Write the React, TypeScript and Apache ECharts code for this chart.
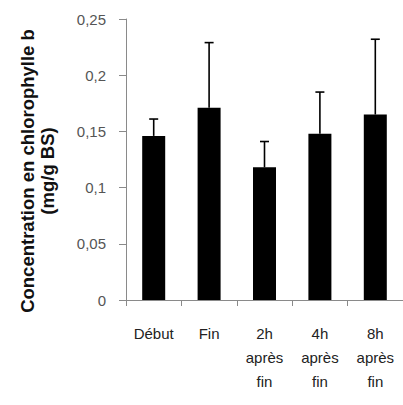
import React, { useEffect, useRef } from "react";
import * as echarts from "echarts";

const categories = ["Début", "Fin", "2h\naprès\nfin", "4h\naprès\nfin", "8h\naprès\nfin"];
const values = [0.146, 0.171, 0.118, 0.148, 0.165];
const errorTops = [0.161, 0.229, 0.141, 0.185, 0.232];
const yTickLabels = ["0", "0,05", "0,1", "0,15", "0,2", "0,25"];
const yTitleLine1 = "Concentration en chlorophylle b";
const yTitleLine2 = "(mg/g BS)";

export default function App() {
  const ref = useRef<HTMLDivElement>(null);
  useEffect(() => {
    if (!ref.current) return;
    const chart = echarts.init(ref.current, null, { renderer: "svg" });
    const font = "'Liberation Sans', Arial, sans-serif";
    chart.setOption({
      animation: false,
      backgroundColor: "#ffffff",
      grid: { left: 126, right: -5, top: 19, bottom: 105, containLabel: false },
      xAxis: {
        type: "category",
        data: categories,
        axisLine: { lineStyle: { color: "#8a8a8a", width: 1 } },
        axisTick: { show: true, length: 6, lineStyle: { color: "#8a8a8a" } },
        axisLabel: {
          color: "#222",
          fontFamily: font,
          fontSize: 15,
          lineHeight: 24,
          margin: 21,
          interval: 0,
        },
      },
      yAxis: {
        type: "value",
        min: 0,
        max: 0.25,
        interval: 0.05,
        splitLine: { show: false },
        axisLine: { show: true, lineStyle: { color: "#8a8a8a", width: 1 } },
        axisTick: { show: true, length: 7, lineStyle: { color: "#8a8a8a" } },
        axisLabel: {
          color: "#555",
          fontFamily: font,
          fontSize: 15,
          margin: 20,
          formatter: (v: number) => yTickLabels[Math.round(v / 0.05)] ?? "",
        },
      },
      graphic: [
        {
          type: "text",
          x: 27,
          y: 171,
          rotation: Math.PI / 2,
          style: {
            text: yTitleLine1,
            fontFamily: font,
            fontWeight: "bold",
            fontSize: 18.5,
            fill: "#111",
            align: "center",
            verticalAlign: "middle",
          },
        },
        {
          type: "text",
          x: 47,
          y: 171,
          rotation: Math.PI / 2,
          style: {
            text: yTitleLine2,
            fontFamily: font,
            fontWeight: "bold",
            fontSize: 18.5,
            fill: "#111",
            align: "center",
            verticalAlign: "middle",
          },
        },
      ],
      series: [
        {
          type: "bar",
          data: values,
          barWidth: 23,
          itemStyle: { color: "#000" },
          z: 2,
        },
        {
          type: "custom",
          z: 3,
          data: categories.map((_, i) => [i, values[i], errorTops[i]]),
          renderItem: (params: any, api: any) => {
            const i = api.value(0);
            const base = api.coord([i, api.value(1)]);
            const top = api.coord([i, api.value(2)]);
            const half = 4.5;
            const style = { stroke: "#000", lineWidth: 1.6 };
            return {
              type: "group",
              children: [
                { type: "line", shape: { x1: base[0], y1: base[1], x2: top[0], y2: top[1] }, style },
                { type: "line", shape: { x1: top[0] - half, y1: top[1], x2: top[0] + half, y2: top[1] }, style },
              ],
            };
          },
        },
      ],
    });
    return () => chart.dispose();
  }, []);
  return (
    <div
      ref={ref}
      style={{ position: "absolute", left: 0, top: 0, width: 403, height: 405 }}
    />
  );
}
